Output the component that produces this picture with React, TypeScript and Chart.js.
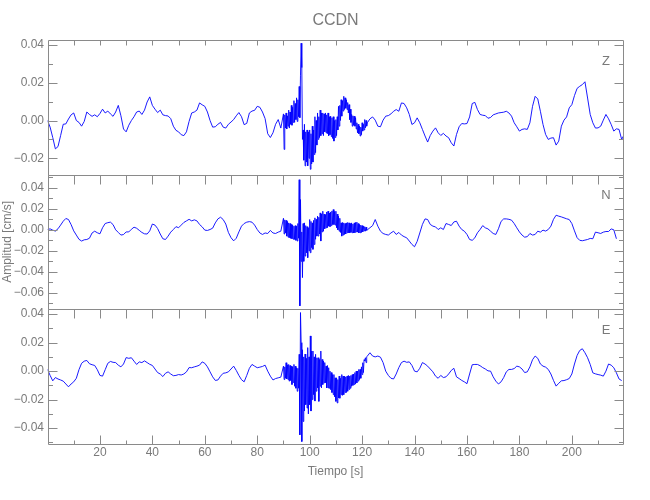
import React, { useEffect, useRef } from 'react';
import { Chart, registerables } from 'chart.js';

Chart.register(...registerables);

// ---------- text ----------
const TITLE = 'CCDN';
const X_TITLE = 'Tiempo [s]';
const Y_TITLE = 'Amplitud [cm/s]';
const X_TICKS = [20, 40, 60, 80, 100, 120, 140, 160, 180, 200];
const Z_TICKS = [-0.02, 0, 0.02, 0.04];
const N_TICKS = [-0.06, -0.04, -0.02, 0, 0.02, 0.04];
const E_TICKS = [-0.04, -0.02, 0, 0.02, 0.04];

// ---------- sampling of the segments (seconds) ----------
const QUIET1_START = 0;   // 1 s samples
const NOISY_START = 90;   // 0.25 s samples
const NOISY_STEP = 0.25;
const QUIET2_START = 122; // 1 s samples

// ---------- Z component (cm/s) ----------
const Z_QUIET1 = [
  0.0000, -0.0035, -0.0090, -0.0150, -0.0138, -0.0080, -0.0020, -0.0018, 0.0008, 0.0030,
  0.0040, 0.0000, -0.0010, -0.0030, -0.0005, 0.0045, 0.0032, 0.0022, 0.0030, 0.0020,
  0.0037, 0.0060, 0.0040, 0.0050, 0.0035, 0.0022, 0.0045, 0.0080, 0.0025, -0.0045,
  -0.0060, -0.0025, 0.0000, 0.0020, 0.0045, 0.0050, 0.0032, 0.0055, 0.0098, 0.0125,
  0.0080, 0.0060, 0.0042, 0.0055, 0.0030, 0.0026, 0.0024, 0.0010, -0.0030, -0.0052,
  -0.0060, -0.0075, -0.0080, -0.0060, -0.0005, 0.0040, 0.0045, 0.0055, 0.0093, 0.0083,
  0.0075, 0.0045, 0.0000, -0.0035, -0.0033, -0.0020, -0.0010, -0.0035, -0.0040, -0.0020,
  -0.0008, 0.0005, 0.0025, 0.0042, 0.0020, -0.0022, -0.0015, 0.0040, 0.0050, 0.0054,
  0.0075, 0.0070, 0.0045, 0.0010, -0.0070, -0.0090, -0.0065, -0.0020, 0.0005, -0.0040,
];
const Z_NOISY = [
  0.0035, -0.0153, 0.0030, -0.0040,
  0.0040, -0.0045, 0.0025, -0.0030,
  0.0055, -0.0040, 0.0045, -0.0020,
  0.0080, -0.0025, 0.0070, -0.0010,
  0.0105, -0.0010, 0.0090, 0.0005,
  0.0120, -0.0005, 0.0110, 0.0020,
  0.0180, 0.0015, 0.0240, 0.0409,
  0.0280, -0.0100, -0.0050, -0.0210,
  -0.0020, -0.0240, -0.0060, -0.0220,
  -0.0050, -0.0240, -0.0060, -0.0200,
  -0.0050, -0.0258, -0.0070, -0.0230,
  -0.0030, -0.0220, -0.0050, -0.0180,
  0.0020, -0.0170, 0.0000, -0.0130,
  0.0040, -0.0100, 0.0020, -0.0090,
  0.0055, -0.0080, 0.0040, -0.0070,
  0.0040, -0.0080, 0.0035, -0.0060,
  0.0040, -0.0065, 0.0030, -0.0070,
  0.0040, -0.0080, 0.0020, -0.0075,
  0.0023, -0.0085, 0.0015, -0.0095,
  0.0020, -0.0109, 0.0000, -0.0090,
  0.0005, -0.0080, 0.0020, -0.0050,
  0.0075, -0.0030, 0.0080, 0.0000,
  0.0110, 0.0023, 0.0105, 0.0050,
  0.0128, 0.0058, 0.0120, 0.0065,
  0.0110, 0.0058, 0.0095, 0.0040,
  0.0084, 0.0005, 0.0060, -0.0010,
  0.0032, -0.0030, 0.0025, -0.0025,
  0.0023, -0.0030, 0.0015, -0.0045,
  -0.0012, -0.0065, -0.0020, -0.0070,
  -0.0030, -0.0082, -0.0035, -0.0075,
  -0.0012, -0.0056, -0.0020, -0.0050,
  0.0005, -0.0039, 0.0000, -0.0030,
];
const Z_QUIET2 = [
  -0.0012, 0.0009, 0.0019, 0.0002, -0.0030, -0.0033, 0.0002, 0.0023, 0.0026, 0.0035,
  0.0049, 0.0058, 0.0049, 0.0093, 0.0090, 0.0067, 0.0032, -0.0021, -0.0012, 0.0014,
  -0.0012, -0.0047, -0.0082, -0.0114, -0.0079, -0.0056, -0.0039, -0.0065, -0.0079, -0.0068,
  -0.0082, -0.0091, -0.0118, -0.0135, -0.0074, -0.0033, -0.0016, -0.0018, -0.0016, 0.0019,
  0.0090, 0.0096, 0.0058, 0.0032, 0.0028, 0.0026, 0.0012, 0.0016, 0.0030, 0.0035,
  0.0040, 0.0042, 0.0044, 0.0049, 0.0040, 0.0023, -0.0012, -0.0033, -0.0056, -0.0047,
  -0.0044, -0.0047, -0.0012, 0.0075, 0.0128, 0.0114, 0.0049, -0.0021, -0.0074, -0.0100,
  -0.0093, -0.0091, -0.0130, -0.0109, -0.0030, 0.0002, 0.0019, 0.0067, 0.0084, 0.0132,
  0.0170, 0.0181, 0.0190, 0.0205, 0.0119, 0.0032, -0.0012, -0.0040, -0.0039, -0.0030,
  0.0002, 0.0032, 0.0009, -0.0021, -0.0056, -0.0044, -0.0047, -0.0100, -0.0074,
];

// ---------- N component (cm/s) ----------
const N_QUIET1 = [
  0.0003, 0.0009, -0.0003, -0.0012, 0.0010, 0.0045, 0.0082, 0.0108, 0.0098, 0.0050,
  -0.0010, -0.0050, -0.0090, -0.0107, -0.0095, -0.0092, -0.0080, -0.0030, -0.0013, -0.0028,
  -0.0038, 0.0020, 0.0060, 0.0068, 0.0073, 0.0050, 0.0000, -0.0025, -0.0050, -0.0045,
  -0.0020, -0.0020, 0.0005, 0.0025, 0.0015, -0.0005, -0.0025, -0.0038, -0.0040, -0.0010,
  0.0055, 0.0045, 0.0012, -0.0040, -0.0085, -0.0092, -0.0060, -0.0022, 0.0003, 0.0030,
  0.0020, 0.0045, 0.0070, 0.0085, 0.0100, 0.0085, 0.0095, 0.0085, 0.0051, 0.0028,
  -0.0003, -0.0006, 0.0003, 0.0016, 0.0066, 0.0104, 0.0120, 0.0098, 0.0055, -0.0025,
  -0.0075, -0.0105, -0.0080, -0.0020, 0.0035, 0.0060, 0.0073, 0.0078, 0.0073, 0.0045,
  0.0003, -0.0030, -0.0044, -0.0030, -0.0035, -0.0006, -0.0030, -0.0035, -0.0022, -0.0013,
];
const N_NOISY = [
  0.0110, -0.0040, 0.0095, -0.0030,
  0.0090, -0.0060, 0.0080, -0.0070,
  0.0066, -0.0076, 0.0060, -0.0080,
  0.0051, -0.0085, 0.0045, -0.0090,
  0.0035, -0.0092, 0.0040, -0.0100,
  0.0035, -0.0107, 0.0060, -0.0080,
  0.0477, -0.0724, 0.0288, -0.0300,
  -0.0020, -0.0455, 0.0060, -0.0300,
  0.0066, -0.0250, 0.0040, -0.0220,
  0.0030, -0.0265, 0.0020, -0.0200,
  0.0098, -0.0218, 0.0080, -0.0170,
  0.0066, -0.0186, 0.0090, -0.0140,
  0.0114, -0.0090, 0.0100, -0.0060,
  0.0130, -0.0060, 0.0120, -0.0040,
  0.0161, -0.0107, 0.0150, -0.0020,
  0.0177, -0.0013, 0.0150, 0.0010,
  0.0145, 0.0019, 0.0170, 0.0020,
  0.0177, 0.0035, 0.0160, 0.0030,
  0.0170, 0.0040, 0.0180, 0.0050,
  0.0193, 0.0050, 0.0175, 0.0045,
  0.0177, 0.0019, 0.0150, 0.0000,
  0.0130, -0.0013, 0.0110, -0.0025,
  0.0066, -0.0060, 0.0070, -0.0050,
  0.0066, -0.0044, 0.0060, -0.0040,
  0.0066, -0.0028, 0.0070, -0.0030,
  0.0066, -0.0028, 0.0060, -0.0025,
  0.0066, -0.0028, 0.0055, -0.0030,
  0.0066, -0.0028, 0.0070, -0.0020,
  0.0073, -0.0022, 0.0060, -0.0030,
  0.0051, -0.0028, 0.0045, -0.0025,
  0.0040, -0.0020, 0.0035, -0.0010,
  0.0030, -0.0013, 0.0025, -0.0005,
];
const N_QUIET2 = [
  0.0000, 0.0020, 0.0040, 0.0098, 0.0035, -0.0013, -0.0035, -0.0044, -0.0050, -0.0030,
  -0.0013, -0.0044, -0.0025, -0.0050, -0.0065, -0.0076, -0.0107, -0.0139, -0.0161, -0.0110,
  -0.0030, 0.0051, 0.0104, 0.0098, 0.0051, 0.0035, 0.0028, 0.0003, 0.0019, 0.0003,
  0.0060, 0.0051, 0.0041, 0.0075, 0.0082, 0.0035, 0.0003, -0.0013, -0.0044, -0.0092,
  -0.0100, -0.0076, -0.0028, 0.0003, 0.0040, 0.0019, 0.0009, -0.0013, -0.0035, -0.0044,
  0.0010, 0.0080, 0.0104, 0.0104, 0.0100, 0.0092, 0.0060, 0.0019, -0.0020, -0.0050,
  -0.0070, -0.0065, -0.0035, -0.0050, -0.0044, -0.0013, -0.0022, -0.0003, -0.0012, 0.0003,
  0.0035, 0.0100, 0.0139, 0.0130, 0.0123, 0.0114, 0.0105, 0.0098, 0.0060, -0.0010,
  -0.0075, -0.0100, -0.0104, -0.0098, -0.0092, -0.0082, -0.0085, -0.0022, -0.0028, -0.0035,
  -0.0022, -0.0016, -0.0016, 0.0009, 0.0000, -0.0085,
];

// ---------- E component (cm/s) ----------
const E_QUIET1 = [
  0.0012, -0.0030, -0.0068, -0.0045, -0.0055, -0.0062, -0.0070, -0.0090, -0.0110, -0.0090,
  -0.0075, -0.0050, 0.0010, 0.0055, 0.0070, 0.0075, 0.0052, 0.0045, 0.0040, 0.0010,
  -0.0030, -0.0035, 0.0010, 0.0055, 0.0068, 0.0062, 0.0060, 0.0042, 0.0030, 0.0050,
  0.0095, 0.0090, 0.0094, 0.0070, 0.0047, 0.0065, 0.0060, 0.0072, 0.0060, 0.0048,
  0.0040, 0.0015, -0.0010, -0.0020, -0.0038, -0.0015, -0.0005, -0.0020, -0.0032, -0.0030,
  -0.0024, -0.0027, -0.0020, -0.0005, 0.0025, 0.0024, 0.0030, 0.0035, 0.0042, 0.0065,
  0.0055, 0.0030, -0.0005, -0.0040, -0.0065, -0.0062, -0.0035, -0.0015, -0.0012, -0.0005,
  0.0015, 0.0035, 0.0005, -0.0030, -0.0060, -0.0075, -0.0030, 0.0020, 0.0047, 0.0035,
  0.0024, 0.0028, 0.0033, 0.0042, 0.0000, -0.0035, -0.0062, -0.0052, -0.0047, -0.0042,
];
const E_NOISY = [
  0.0035, -0.0059, 0.0030, -0.0050,
  0.0059, -0.0055, 0.0045, -0.0060,
  0.0047, -0.0071, 0.0040, -0.0065,
  0.0035, -0.0094, 0.0030, -0.0080,
  0.0047, -0.0106, 0.0035, -0.0120,
  0.0024, -0.0141, 0.0020, -0.0120,
  0.0118, -0.0447, 0.0411, 0.0200,
  -0.0494, 0.0150, -0.0353, 0.0100,
  -0.0280, 0.0120, -0.0235, 0.0090,
  -0.0259, 0.0165, -0.0300, 0.0100,
  -0.0235, 0.0247, -0.0280, 0.0141,
  -0.0200, 0.0141, -0.0165, 0.0100,
  -0.0210, 0.0118, -0.0141, 0.0094,
  -0.0118, 0.0094, -0.0212, 0.0082,
  -0.0106, 0.0141, -0.0118, 0.0082,
  -0.0094, 0.0071, -0.0082, 0.0060,
  -0.0082, 0.0035, -0.0118, 0.0040,
  -0.0118, 0.0024, -0.0120, 0.0000,
  -0.0130, -0.0010, -0.0150, -0.0024,
  -0.0165, -0.0024, -0.0180, -0.0047,
  -0.0212, -0.0047, -0.0223, -0.0059,
  -0.0188, -0.0035, -0.0190, -0.0050,
  -0.0165, -0.0024, -0.0170, -0.0035,
  -0.0165, -0.0035, -0.0150, -0.0040,
  -0.0150, -0.0035, -0.0141, -0.0030,
  -0.0129, -0.0035, -0.0120, -0.0030,
  -0.0106, -0.0024, -0.0100, -0.0020,
  -0.0094, -0.0010, -0.0090, 0.0000,
  -0.0082, 0.0000, -0.0070, 0.0012,
  -0.0059, 0.0012, -0.0050, 0.0030,
  -0.0024, 0.0059, -0.0010, 0.0080,
  0.0071, 0.0094, 0.0060, 0.0100,
];
const E_QUIET2 = [
  0.0106, 0.0129, 0.0106, 0.0100, 0.0106, 0.0098, 0.0060, 0.0000, -0.0030, -0.0050,
  -0.0055, -0.0020, 0.0025, 0.0060, 0.0070, 0.0062, 0.0065, 0.0040, 0.0000, -0.0005,
  0.0020, 0.0060, 0.0050, 0.0035, 0.0015, -0.0005, -0.0035, -0.0050, -0.0030, -0.0045,
  -0.0040, -0.0020, 0.0005, 0.0020, -0.0040, -0.0052, -0.0065, -0.0075, -0.0088, -0.0020,
  0.0045, 0.0047, 0.0047, 0.0038, 0.0025, 0.0015, 0.0002, 0.0000, -0.0040, -0.0070,
  -0.0090, -0.0075, -0.0045, -0.0005, 0.0012, 0.0012, 0.0018, 0.0035, 0.0030, 0.0015,
  -0.0010, -0.0005, 0.0030, 0.0080, 0.0106, 0.0090, 0.0050, 0.0035, 0.0028, 0.0012,
  -0.0020, -0.0065, -0.0105, -0.0085, -0.0068, -0.0066, -0.0060, -0.0052, -0.0020, 0.0050,
  0.0110, 0.0145, 0.0157, 0.0129, 0.0094, 0.0047, -0.0012, -0.0019, -0.0024, -0.0028,
  -0.0035, 0.0000, 0.0050, 0.0042, 0.0024, -0.0012, -0.0055, -0.0066,
];

// ---------- panels ----------
const PANEL_IDS = ['yZ', 'yN', 'yE'];
const PANEL_NAMES = ['Z', 'N', 'E'];
const PANEL_TICKS = [Z_TICKS, N_TICKS, E_TICKS];
const Y_MIN = [-0.0286, -0.0755, -0.0509];
const Y_MAX = [0.0426, 0.0526, 0.0435];
const X_MIN = 0;
const X_MAX = 219.7;

const FONT = "'Liberation Sans Narrow', 'Liberation Sans', Arial, sans-serif";
const TEXT = '#7a7a7a';
const AXIS = '#8a8a8a';
const LINE = '#0000ff';

type Pt = { x: number; y: number };

function segment(values: number[], t0: number, dt: number): Pt[] {
  return values.map((v, i) => ({ x: t0 + i * dt, y: v }));
}

function trace(q1: number[], noisy: number[], q2: number[]): Pt[] {
  return [
    ...segment(q1, QUIET1_START, 1),
    ...segment(noisy, NOISY_START, NOISY_STEP),
    ...segment(q2, QUIET2_START, 1),
  ];
}

const fmt = (v: any) => {
  const n = Number(v);
  if (Math.abs(n) < 1e-9) return '0.00';
  const s = Math.abs(n).toFixed(2);
  return n < 0 ? '\u2212' + s : s;
};

const framePlugin = {
  id: 'panelFrames',
  afterDraw(chart: any) {
    const { ctx, chartArea } = chart;
    const xs = chart.scales.x;
    const L = Math.round(chartArea.left) + 0.5;
    const R = Math.round(chartArea.right) - 0.5;
    ctx.save();
    ctx.strokeStyle = AXIS;
    ctx.lineWidth = 1;
    PANEL_IDS.forEach((id, idx) => {
      const s = chart.scales[id];
      const T = Math.round(s.top) + 0.5;
      const B = Math.round(s.bottom) + 0.5;
      ctx.beginPath();
      ctx.rect(L, T, R - L, B - T);
      // y ticks (inward, both sides)
      const lo = Math.ceil(s.min / 0.01 - 1e-6);
      const hi = Math.floor(s.max / 0.01 + 1e-6);
      for (let k = lo; k <= hi; k++) {
        const py = Math.round(s.getPixelForValue(k * 0.01)) + 0.5;
        const len = k % 2 === 0 ? 9 : 4.5;
        ctx.moveTo(L, py); ctx.lineTo(L + len, py);
        ctx.moveTo(R, py); ctx.lineTo(R - len, py);
      }
      // x ticks on top edge (inward)
      for (let t = 10; t < X_MAX; t += 10) {
        const px = Math.round(xs.getPixelForValue(t)) + 0.5;
        const len = idx === 0 ? 5 : 9;
        ctx.moveTo(px, T); ctx.lineTo(px, T + len);
        if (idx === PANEL_IDS.length - 1) {
          const lb = t % 20 === 0 ? 9 : 4;
          ctx.moveTo(px, B); ctx.lineTo(px, B - lb);
        }
      }
      ctx.stroke();
      // component label
      ctx.fillStyle = TEXT;
      ctx.font = `13px ${FONT}`;
      ctx.textAlign = 'center';
      ctx.textBaseline = 'middle';
      ctx.fillText(PANEL_NAMES[idx], chartArea.right - 17.5, s.top + 21);
    });
    ctx.restore();
  },
};

function yAxis(idx: number, withTitle: boolean) {
  return {
    type: 'linear',
    position: 'left',
    stack: 'panels',
    stackWeight: 1,
    min: Y_MIN[idx],
    max: Y_MAX[idx],
    bounds: 'data',
    grid: { display: false, drawTicks: false },
    border: { display: false },
    afterBuildTicks: (s: any) => { s.ticks = PANEL_TICKS[idx].map((v) => ({ value: v })); },
    ticks: {
      autoSkip: false,
      padding: 3.5,
      color: TEXT,
      font: { family: FONT, size: 12 },
      callback: fmt,
    },
    title: {
      display: withTitle,
      text: Y_TITLE,
      color: TEXT,
      font: { family: FONT, size: 12 },
      padding: { top: 0, bottom: 0 },
    },
    afterFit: (s: any) => { s.width = 47.5; },
  };
}

export default function App() {
  const ref = useRef<HTMLCanvasElement>(null);

  useEffect(() => {
    if (!ref.current) return;
    const mk = (data: Pt[], axis: string) => ({
      data,
      yAxisID: axis,
      borderColor: LINE,
      borderWidth: 0.9,
      pointRadius: 0,
      tension: 0,
      fill: false,
    });
    const chart = new Chart(ref.current, {
      type: 'line',
      data: {
        datasets: [
          mk(trace(E_QUIET1, E_NOISY, E_QUIET2), 'yE'),
          mk(trace(N_QUIET1, N_NOISY, N_QUIET2), 'yN'),
          mk(trace(Z_QUIET1, Z_NOISY, Z_QUIET2), 'yZ'),
        ],
      },
      options: {
        responsive: false,
        animation: false,
        devicePixelRatio: 1,
        parsing: false,
        normalized: true,
        layout: { padding: { left: 0, right: 26.5, top: 0, bottom: 0 } },
        plugins: {
          legend: { display: false },
          tooltip: { enabled: false },
          title: {
            display: true,
            text: TITLE,
            fullSize: false,
            color: TEXT,
            font: { family: FONT, size: 16, weight: 'normal' },
            padding: { top: 11, bottom: 9.8 },
          },
        },
        scales: {
          x: {
            type: 'linear',
            position: 'bottom',
            min: X_MIN,
            max: X_MAX,
            bounds: 'data',
            grid: { display: false, drawTicks: false },
            border: { display: false },
            afterBuildTicks: (s: any) => { s.ticks = X_TICKS.map((v) => ({ value: v })); },
            ticks: {
              autoSkip: false,
              maxRotation: 0,
              padding: 2,
              color: TEXT,
              font: { family: FONT, size: 12 },
            },
            title: {
              display: true,
              text: X_TITLE,
              color: TEXT,
              font: { family: FONT, size: 12 },
              padding: { top: 0, bottom: 21 },
            },
            afterFit: (s: any) => { s.height = 56.3; },
          },
          yE: yAxis(2, false),
          yN: yAxis(1, true),
          yZ: yAxis(0, false),
        },
      } as any,
      plugins: [framePlugin],
    });
    return () => chart.destroy();
  }, []);

  return (
    <div style={{ position: 'fixed', left: 0, top: 0, width: 650, height: 500, background: '#ffffff' }}>
      <canvas ref={ref} width={650} height={500} style={{ display: 'block', width: 650, height: 500 }} />
    </div>
  );
}
